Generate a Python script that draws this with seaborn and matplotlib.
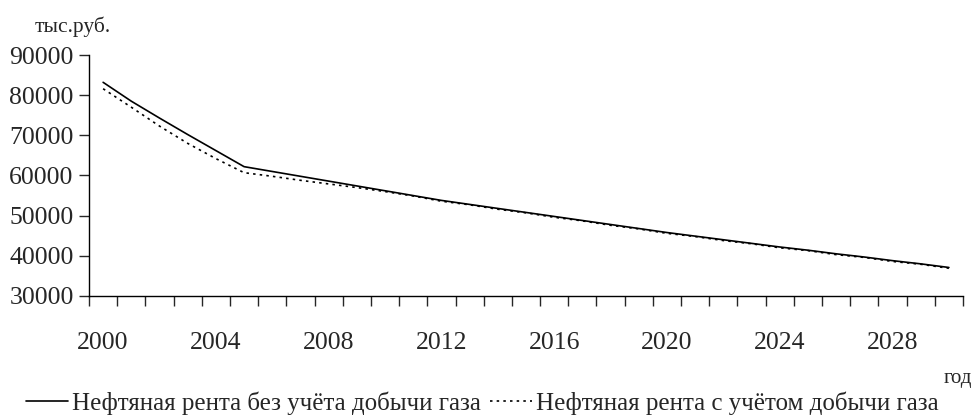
import pandas as pd
import numpy as np
import matplotlib.pyplot as plt
import seaborn as sns

years = list(range(2000, 2031))
# нефтяная рента без учёта добычи газа, тыс.руб.
rent_no_gas = [83200, 78500, 74300, 70200, 66200, 62200, 61000, 59800, 58600, 57400,
               56200, 55000, 53800, 52800, 51800, 50800, 49800, 48800, 47800, 46800,
               45800, 44900, 44000, 43100, 42200, 41400, 40500, 39700, 38800, 38000, 37100]
# нефтяная рента с учётом добычи газа
rent_gas = [81600, 77000, 72300, 68000, 64200, 60700, 59800, 58800, 57900, 57000,
            56000, 54900, 53600, 52700, 51600, 50700, 49600, 48700, 47600, 46700,
            45600, 44800, 43800, 43000, 42000, 41300, 40300, 39600, 38600, 37900, 36900]
labels = ['Нефтяная рента без учёта добычи газа', 'Нефтяная рента с учётом добычи газа']
tick_years = [2000, 2004, 2008, 2012, 2016, 2020, 2024, 2028]

df = pd.DataFrame({'год': years, labels[0]: rent_no_gas, labels[1]: rent_gas})
df = df.melt(id_vars='год', var_name='ряд', value_name='рента')

sns.set_style('white')
plt.rcParams['font.family'] = ['Liberation Serif', 'DejaVu Serif']

fig = plt.figure(figsize=(9.74, 4.18), dpi=100)
ax = fig.add_axes([0.0914, 0.2919, 0.8973, 0.5765])

sns.lineplot(data=df, x='год', y='рента', hue='ряд', style='ряд',
             palette=['black', 'black'], dashes=['', (1.5, 2.5)], linewidth=1.2, ax=ax)

ax.set_xlim(1999.5, 2030.5)
ax.set_ylim(30000, 90000)
ax.set_yticks(range(30000, 90001, 10000))
ax.tick_params(axis='y', direction='out', length=7, width=1, labelsize=18.5, pad=4, left=True)
ax.set_xticks(tick_years)
ax.set_xticklabels([str(y) for y in tick_years])
ax.set_xticks(np.arange(1999.5, 2031, 1), minor=True)
ax.tick_params(axis='x', which='major', length=0, labelsize=18.5, pad=26)
ax.tick_params(axis='x', which='minor', direction='out', length=7, width=1, bottom=True)
ax.set_xlabel('')
ax.set_ylabel('')
for s in ['top', 'right']:
    ax.spines[s].set_visible(False)
for s in ['left', 'bottom']:
    ax.spines[s].set_color('black')
    ax.spines[s].set_linewidth(1)

fig.text(0.036, 0.935, 'тыс.руб.', fontsize=15.5, ha='left', va='center')
fig.text(0.969, 0.095, 'год', fontsize=15, ha='left', va='center')

handles, lbls = ax.get_legend_handles_labels()
ax.legend(handles, lbls, loc='center', bbox_to_anchor=(0.495, 0.035),
          bbox_transform=fig.transFigure, ncol=2, frameon=False, fontsize=18,
          handlelength=1.7, handletextpad=0.15, columnspacing=0.35)

fig.savefig('out.png', dpi=100)
